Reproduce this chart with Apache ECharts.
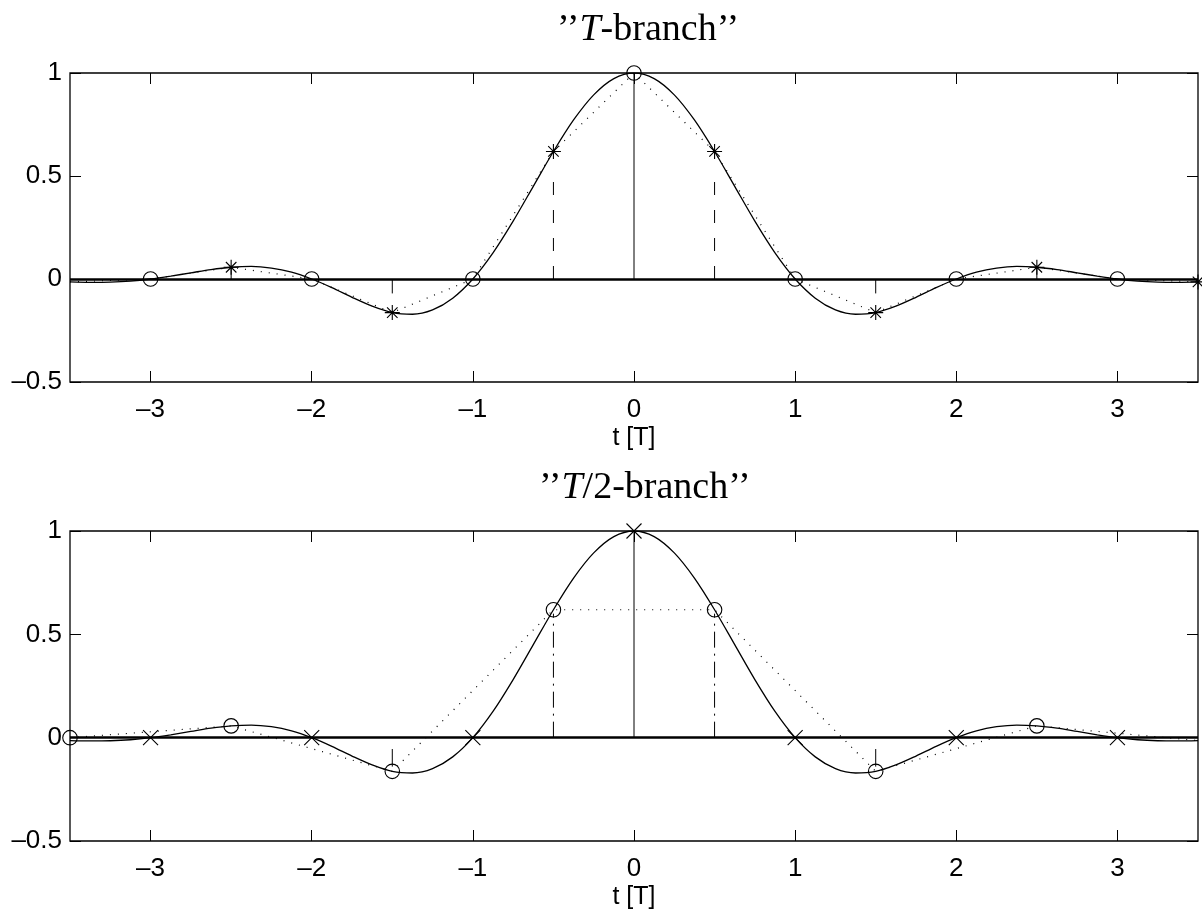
<!DOCTYPE html>
<html><head><meta charset="utf-8">
<script src="https://cdn.jsdelivr.net/npm/echarts@6/dist/echarts.min.js"></script>
<style>html,body{margin:0;padding:0;background:#fff}#c{width:1202px;height:914px}</style>
</head><body><div id="c"></div><script>
// ---- data ----
const curveT = [-3.5,-3.375,-3.25,-3.125,-3,-2.875,-2.75,-2.625,-2.5,-2.375,-2.25,-2.125,-2,-1.875,-1.75,-1.625,-1.5,-1.375,-1.25,-1.125,-1,-0.875,-0.75,-0.625,-0.5,-0.375,-0.25,-0.125,0,0.125,0.25,0.375,0.5,0.625,0.75,0.875,1,1.125,1.25,1.375,1.5,1.625,1.75,1.875,2,2.125,2.25,2.375,2.5,2.625,2.75,2.875,3,3.125,3.25,3.375,3.5];
const curveY = [-0.014,-0.016,-0.015,-0.010,0,0.014,0.030,0.046,0.057,0.061,0.053,0.033,0,-0.042,-0.089,-0.132,-0.163,-0.171,-0.150,-0.093,0,0.127,0.281,0.450,0.619,0.772,0.894,0.973,1,0.973,0.894,0.772,0.619,0.450,0.281,0.127,0,-0.093,-0.150,-0.171,-0.163,-0.132,-0.089,-0.042,0,0.033,0.053,0.061,0.057,0.046,0.030,0.014,0,-0.010,-0.015,-0.016,-0.014];

// "T-branch" samples
const topDotT = [-3.5,-3,-2.5,-2,-1.5,-1,-0.5,0,0.5,1,1.5,2,2.5,3,3.5];
const topDotY = [-0.014,0,0.057,0,-0.163,0,0.619,1,0.619,0,-0.163,0,0.057,0,-0.014];
const topCircleT = [-3,-2,-1,0,1,2,3];
const topCircleY = [0,0,0,1,0,0,0];
const topStarT = [-2.5,-1.5,-0.5,0.5,1.5,2.5,3.5];
const topStarY = [0.057,-0.163,0.619,0.619,-0.163,0.057,-0.014];
const topSolidStemT = [0];
const topSolidStemY = [1];
const topDashStemT = [-0.5,0.5];
const topDashStemY = [0.48,0.48];
const topShortStemT = [-2.5,-1.5,1.5,2.5];
const topShortStemY = [0.057,-0.07,-0.07,0.057];

// "T/2-branch" samples
const botDotT = [-3.5,-2.5,-1.5,-0.5,0.5,1.5,2.5,3.5];
const botDotY = [0,0.057,-0.163,0.619,0.619,-0.163,0.057,-0.014];
const botCircleT = [-3.5,-2.5,-1.5,-0.5,0.5,1.5,2.5];
const botCircleY = [0,0.057,-0.163,0.619,0.619,-0.163,0.057];
const botCrossT = [-3,-2,-1,0,1,2,3];
const botCrossY = [0,0,0,1,0,0,0];
const botSolidStemT = [0];
const botSolidStemY = [1];
const botDashDotStemT = [-0.5,0.5];
const botDashDotStemY = [0.6,0.6];
const botShortStemT = [-1.5,1.5];
const botShortStemFrom = [-0.055,-0.055];
const botShortStemTo = [-0.14,-0.14];

const xTicks = [-3,-2,-1,0,1,2,3];
const xMin = -3.5, xMax = 3.5;
const yMin = -0.5, yMax = 1, yStep = 0.5;
const xName = 't [T]';

// ---- chart ----
const SANS = 'Liberation Sans', SERIF = 'Liberation Serif';
const minus = v => String(v).replace('-', '\u2013');
const zip = (a, b) => a.map((v, i) => [v, b[i]]);
const STAR = 'path://M0,-1L0,1M-1,0L1,0M-0.7,-0.7L0.7,0.7M-0.7,0.7L0.7,-0.7';
const CROSS = 'path://M-1,-1L1,1M-1,1L1,-1';
const TICK = { inside: true, length: 11, lineStyle: { color: '#000', width: 1 } };
const NOLINE = { show: false, onZero: false };

function xAxesFor(gi) {
  return [
    { gridIndex: gi, type: 'value', min: xMin, max: xMax, position: 'bottom',
      axisLine: NOLINE, splitLine: { show: false },
      axisTick: Object.assign({ customValues: xTicks }, TICK),
      axisLabel: { customValues: xTicks, formatter: minus, color: '#000', fontFamily: SANS, fontSize: 26, margin: 15 },
      name: xName, nameLocation: 'middle', nameGap: 44,
      nameTextStyle: { color: '#000', fontFamily: SANS, fontSize: 25 } },
    { gridIndex: gi, type: 'value', min: xMin, max: xMax, position: 'top',
      axisLine: NOLINE, splitLine: { show: false },
      axisTick: Object.assign({ customValues: xTicks }, TICK),
      axisLabel: { show: false } }
  ];
}
function yAxesFor(gi) {
  return [
    { gridIndex: gi, type: 'value', min: yMin, max: yMax, interval: yStep, position: 'left',
      axisLine: NOLINE, splitLine: { show: false },
      axisTick: TICK,
      axisLabel: { formatter: minus, color: '#000', fontFamily: SANS, fontSize: 26, margin: 8 } },
    { gridIndex: gi, type: 'value', min: yMin, max: yMax, interval: yStep, position: 'right',
      axisLine: NOLINE, splitLine: { show: false },
      axisTick: TICK,
      axisLabel: { show: false } }
  ];
}
function lineS(ax, data, style, extra) {
  return Object.assign({ type: 'line', xAxisIndex: ax, yAxisIndex: ax, data: data,
    symbol: 'none', silent: true, animation: false,
    lineStyle: Object.assign({ color: '#000', width: 1 }, style) }, extra || {});
}
function markS(ax, data, symbol, size) {
  return { type: 'line', xAxisIndex: ax, yAxisIndex: ax, data: data, symbol: symbol, symbolSize: size,
    showSymbol: true, lineStyle: { opacity: 0 }, silent: true, animation: false, clip: false,
    itemStyle: { color: 'rgba(0,0,0,0)', borderColor: '#000', borderWidth: 1.1 } };
}
function stems(ax, ts, from, to, style) {
  return ts.map((t, i) => lineS(ax, [[t, Array.isArray(from) ? from[i] : from], [t, to[i]]], style));
}
function zeroLine() {
  return { silent: true, symbol: 'none', animation: false, label: { show: false },
    lineStyle: { color: '#000', width: 2.5, type: 'solid' }, data: [{ yAxis: 0 }] };
}

const series = [];
// top
series.push(...stems(0, topSolidStemT, 0, topSolidStemY, {}));
series.push(...stems(0, topDashStemT, 0, topDashStemY, { type: [13, 15] }));
series.push(...stems(0, topShortStemT, 0, topShortStemY, {}));
series.push(lineS(0, zip(topDotT, topDotY), { type: [1, 7], width: 1.2 }));
series.push(lineS(0, zip(curveT, curveY), { width: 1.3 }, { smooth: 0.3, markLine: zeroLine() }));
series.push(markS(0, zip(topCircleT, topCircleY), 'circle', 14.5));
series.push(markS(0, zip(topStarT, topStarY), STAR, 15));
// bottom
series.push(...stems(2, botSolidStemT, 0, botSolidStemY, {}));
series.push(...stems(2, botDashDotStemT, 0, botDashDotStemY, { type: [16, 6, 2, 6] }));
series.push(...stems(2, botShortStemT, botShortStemFrom, botShortStemTo, {}));
series.push(lineS(2, zip(botDotT, botDotY), { type: [1, 7], width: 1.2 }));
series.push(lineS(2, zip(curveT, curveY), { width: 1.3 }, { smooth: 0.3, markLine: zeroLine() }));
series.push(markS(2, zip(botCircleT, botCircleY), 'circle', 14.5));
series.push(markS(2, zip(botCrossT, botCrossY), CROSS, 15));

const titleRich = {
  a: { fontFamily: SERIF, fontSize: 38, fontWeight: 'normal', color: '#000' },
  b: { fontFamily: SERIF, fontSize: 38, fontWeight: 'normal', fontStyle: 'italic', color: '#000' }
};
const chart = echarts.init(document.getElementById('c'), null, { renderer: 'canvas' });
chart.setOption({
  animation: false,
  backgroundColor: '#fff',
  title: [
    { text: '{a|\u2019\u2019}{b|T}{a|-branch\u2019\u2019}', left: 552, top: 6, textStyle: { fontWeight: 'normal', rich: titleRich } },
    { text: '{a|\u2019\u2019}{b|T}{a|/2-branch\u2019\u2019}', left: 534, top: 464, textStyle: { fontWeight: 'normal', rich: titleRich } }
  ],
  grid: [
    { left: 70, top: 73, width: 1128, height: 309, show: true, borderColor: '#000', borderWidth: 1.3, backgroundColor: 'rgba(0,0,0,0)' },
    { left: 70, top: 531, width: 1128, height: 310, show: true, borderColor: '#000', borderWidth: 1.3, backgroundColor: 'rgba(0,0,0,0)' }
  ],
  xAxis: [...xAxesFor(0), ...xAxesFor(1)],
  yAxis: [...yAxesFor(0), ...yAxesFor(1)],
  series: series
});
</script></body></html>
